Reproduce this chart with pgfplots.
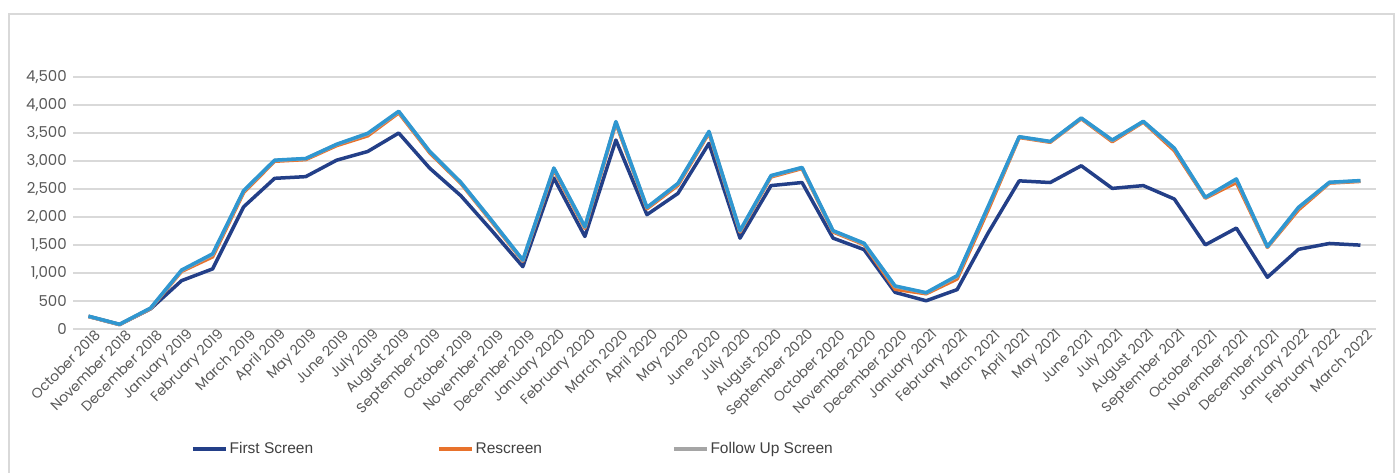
\documentclass[border=0pt]{standalone}
\usepackage{fontspec}
\setmainfont{Poppins}
\newfontfamily\legendfont{Liberation Sans}
\usepackage{pgfplots}
\pgfplotsset{compat=1.18}
\usepackage{pgfplotstable}

\definecolor{firstc}{HTML}{233F88}
\definecolor{rescc}{HTML}{E8722C}
\definecolor{followc}{HTML}{A5A5A5}
\definecolor{totalc}{HTML}{2F97D1}
\definecolor{gridc}{HTML}{D9D9D9}
\definecolor{tickc}{HTML}{595959}
\definecolor{legc}{HTML}{404040}

% monthly screening counts, October 2018 (0) to March 2022 (41)
\pgfplotstableread{
idx first rescreen follow total
0 225 225 225 230
1 80 80 80 85
2 360 365 370 375
3 865 1030 1045 1055
4 1075 1290 1330 1345
5 2185 2440 2465 2475
6 2695 3000 3015 3020
7 2725 3030 3045 3050
8 3020 3280 3300 3305
9 3175 3455 3485 3500
10 3505 3865 3885 3895
11 2875 3150 3170 3175
12 2385 2605 2620 2625
13 1760 1915 1930 1940
14 1115 1215 1225 1235
15 2700 2845 2870 2880
16 1655 1800 1820 1830
17 3380 3680 3700 3710
18 2045 2150 2170 2175
19 2425 2570 2595 2605
20 3320 3505 3525 3535
21 1625 1735 1750 1760
22 2565 2720 2735 2745
23 2620 2870 2885 2890
24 1625 1735 1750 1760
25 1420 1510 1525 1535
26 655 710 760 770
27 505 630 645 650
28 705 895 940 955
29 1720 2130 2180 2195
30 2650 3425 3435 3440
31 2620 3340 3350 3355
32 2920 3760 3770 3775
33 2515 3350 3370 3380
34 2565 3700 3710 3715
35 2325 3190 3225 3235
36 1505 2340 2350 2355
37 1805 2620 2670 2685
38 925 1460 1468 1475
39 1425 2130 2165 2175
40 1530 2610 2618 2625
41 1500 2640 2648 2655
}\screens

\begin{document}
\begin{tikzpicture}[x=1pt,y=1pt]
\useasboundingbox (0,0) rectangle (1399,-472);
\draw[gridc, line width=2pt] (9,-14) rectangle (1394,-490);
\begin{axis}[
  at={(73pt,-329pt)}, anchor=south west,
  scale only axis, width=1303pt, height=251.6pt,
  xmin=-0.5, xmax=41.5, ymin=0, ymax=4500,
  ytick={0,500,...,4500},
  ymajorgrids, grid style={gridc, line width=2pt},
  axis line style={draw=none},
  major tick length=0pt,
  /pgf/number format/assume math mode=true,
  /pgf/number format/1000 sep={,},
  yticklabel style={font=\fontsize{15}{15}\selectfont, text=tickc, anchor=east, inner sep=0pt, xshift=-6pt},
  xtick={0,...,41},
  xticklabels={October 2018, November 2018, December 2018, January 2019, February 2019, March 2019, April 2019, May 2019, June 2019, July 2019, August 2019, September 2019, October 2019, November 2019, December 2019, January 2020, February 2020, March 2020, April 2020, May 2020, June 2020, July 2020, August 2020, September 2020, October 2020, November 2020, December 2020, January 2021, February 2021, March 2021, April 2021, May 2021, June 2021, July 2021, August 2021, September 2021, October 2021, November 2021, December 2021, January 2022, February 2022, March 2022},
  xticklabel style={font=\fontsize{14}{14}\selectfont, text=tickc, rotate=45, anchor=east, inner sep=0pt, xshift=4pt, yshift=-9pt},
  legend columns=3,
  legend style={at={(axis description cs:0.0905,-0.477)}, anchor=west, draw=none, fill=none, inner sep=0pt,
    font=\legendfont\fontsize{15.5}{16}\selectfont, text=legc,
    /tikz/column 2/.style={column sep=122pt},
    /tikz/column 4/.style={column sep=128pt}},
  legend image code/.code={\draw[#1, line width=3.5pt] (0pt,0pt) -- (33pt,0pt);},
  every axis plot/.append style={line width=3.5pt, line join=round, no markers},
]
\addplot[firstc] table[x=idx, y=first] {\screens};
\addlegendentry{First Screen}
\addplot[rescc] table[x=idx, y=rescreen] {\screens};
\addlegendentry{Rescreen}
\addplot[followc] table[x=idx, y=follow] {\screens};
\addlegendentry{Follow Up Screen}
\addplot[totalc, forget plot] table[x=idx, y=total] {\screens};
\end{axis}
\end{tikzpicture}
\end{document}
